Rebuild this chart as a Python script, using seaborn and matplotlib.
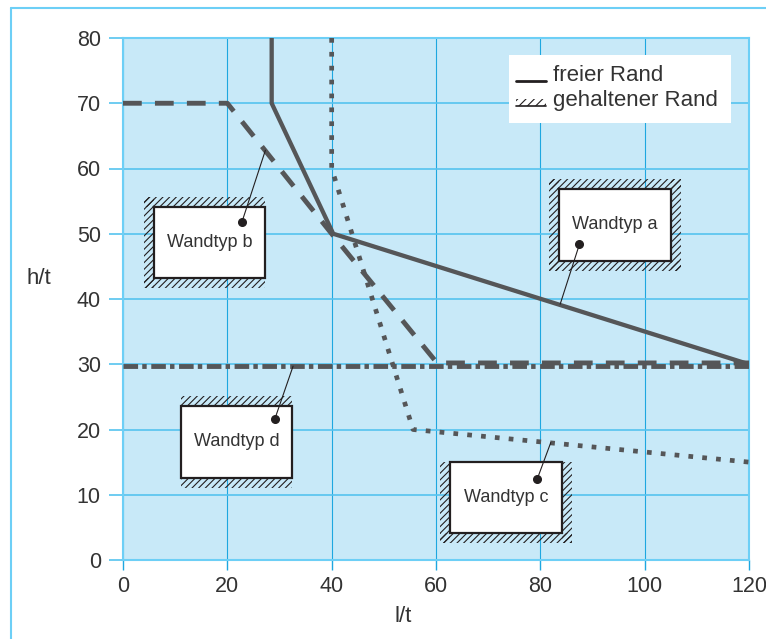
import numpy as np
import pandas as pd
import matplotlib
matplotlib.use("Agg")
import matplotlib.pyplot as plt
from matplotlib.patches import Rectangle
from matplotlib.lines import Line2D
import seaborn as sns

# Kurvenpunkte (l/t, h/t) der vier Wandtypen
wand_a_x = [28.5, 28.5, 40.3, 120]
wand_a_y = [80, 70, 50, 30]
wand_b_x = [0, 20, 40, 60.2, 120]
wand_b_y = [70, 70, 50, 30.2, 30.2]
wand_c_x = [40, 40, 55.6, 120]
wand_c_y = [80, 60, 20, 15]
wand_d_x = [0, 120]
wand_d_y = [29.7, 29.7]

x_ticks = [0, 20, 40, 60, 80, 100, 120]
y_ticks = [0, 10, 20, 30, 40, 50, 60, 70, 80]

legend_labels = ["freier Rand", "gehaltener Rand"]

# Beschriftungskästen: Text, Kasten (x0, y0, x1, y1), gehaltene Seiten, Punkt, Linienende
boxes = [
    ("Wandtyp a", (83.6, 45.8, 105.0, 56.9), "ltrb", (87.5, 48.4), (83.8, 39.2)),
    ("Wandtyp b", (5.9, 43.2, 27.2, 54.1), "ltb", (22.8, 51.8), (27.3, 62.8)),
    ("Wandtyp c", (62.7, 4.1, 84.2, 15.0), "lrb", (79.4, 12.4), (82.0, 18.0)),
    ("Wandtyp d", (11.1, 12.6, 32.4, 23.6), "tb", (29.1, 21.6), (32.6, 29.7)),
]

sns.set_style("white")
plt.rcParams["font.family"] = ["Liberation Sans", "DejaVu Sans"]
plt.rcParams["hatch.linewidth"] = 0.8

text_col = "#333333"
line_col = "#555658"
dark = "#231f20"
grid_dark = "#1ea7e0"
grid_light = "#55c3ef"
border = "#6dcff6"

fig = plt.figure(figsize=(7.66, 6.39), dpi=100)
ax = fig.add_axes([123 / 766, 1 - 560 / 639, 626 / 766, 522 / 639])
ax.set_facecolor("#c8e9f8")

# Strichmuster in Punkten (None = durchgezogen)
curves = [
    (wand_a_x, wand_a_y, None, 3.1),
    (wand_b_x, wand_b_y, (13.5, 9.5), 3.5),
    (wand_c_x, wand_c_y, (3.4, 6.6), 3.4),
    (wand_d_x, wand_d_y, (10.5, 3.0, 3.2, 3.3), 3.5),
]
for xs, ys, dash, lw in curves:
    df = pd.DataFrame({"l/t": xs, "h/t": ys})
    n_before = len(ax.lines)
    sns.lineplot(data=df, x="l/t", y="h/t", ax=ax, sort=False, estimator=None,
                 color=line_col, linewidth=lw, zorder=3)
    for line in ax.lines[n_before:]:
        line.set_solid_capstyle("butt")
        line.set_dash_capstyle("butt")
        if dash is not None:
            line.set_linestyle((0, tuple(d / lw for d in dash)))

ax.set_xlim(0, 120)
ax.set_ylim(0, 80)
ax.set_xticks(x_ticks)
ax.set_yticks(y_ticks)
ax.set_xlabel("")
ax.set_ylabel("")
ax.xaxis.grid(True, color=grid_dark, linewidth=0.8)
ax.yaxis.grid(True, color=grid_light, linewidth=1.2)
ax.set_axisbelow(True)
for sp in ax.spines.values():
    sp.set_color(border)
    sp.set_linewidth(1.5)
ax.tick_params(axis="x", length=7.5, width=1, color=grid_dark, pad=4,
               labelsize=15.5, labelcolor=text_col, direction="out")
ax.tick_params(axis="y", length=10, width=1.2, color=grid_light, pad=6,
               labelsize=15.5, labelcolor=text_col, direction="out")
ax.tick_params(bottom=True, left=True)

# Kästen mit schraffierten (gehaltenen) Rändern
dx, dy = 1.9, 1.55
for label, (x0, y0, x1, y1), sides, dot, end in boxes:
    hx0 = x0 - dx if "l" in sides else x0
    hx1 = x1 + dx if "r" in sides else x1
    vy0 = y0 - dy if "b" in sides else y0
    vy1 = y1 + dy if "t" in sides else y1
    strips = []
    if "l" in sides:
        strips.append((x0 - dx, vy0, dx, vy1 - vy0))
    if "r" in sides:
        strips.append((x1, vy0, dx, vy1 - vy0))
    if "t" in sides:
        strips.append((hx0, y1, hx1 - hx0, dy))
    if "b" in sides:
        strips.append((hx0, y0 - dy, hx1 - hx0, dy))
    for sx, sy, sw, sh in strips:
        ax.add_patch(Rectangle((sx, sy), sw, sh, facecolor="none", edgecolor=dark,
                               hatch="/////", linewidth=0, zorder=4))
    ax.add_patch(Rectangle((x0, y0), x1 - x0, y1 - y0, facecolor="white",
                           edgecolor=dark, linewidth=1.6, zorder=5))
    ax.text((x0 + x1) / 2, (y0 + y1) / 2, label, ha="center", va="center",
            fontsize=13, color=text_col, zorder=6)
    ax.plot([dot[0], end[0]], [dot[1], end[1]], color=dark, linewidth=0.8, zorder=6)
    ax.plot(dot[0], dot[1], "o", color=dark, markersize=5.5, zorder=7)

# Legende
ax.add_patch(Rectangle((0.6166, 0.837), 0.3546, 0.130, transform=ax.transAxes,
                       facecolor="white", edgecolor="none", zorder=5))
ax.add_line(Line2D([0.628, 0.676], [0.918, 0.918], transform=ax.transAxes,
                   color=dark, linewidth=2, zorder=6))
ax.add_patch(Rectangle((0.628, 0.869), 0.048, 0.014, transform=ax.transAxes,
                       facecolor="none", edgecolor=dark, hatch="////", linewidth=0, zorder=6))
ax.add_line(Line2D([0.628, 0.676], [0.869, 0.869], transform=ax.transAxes,
                   color=dark, linewidth=1.2, zorder=6))
ax.text(0.687, 0.917, legend_labels[0], transform=ax.transAxes, va="baseline",
        fontsize=16, color=text_col, zorder=7)
ax.text(0.687, 0.870, legend_labels[1], transform=ax.transAxes, va="baseline",
        fontsize=16, color=text_col, zorder=7)

fig.text(39 / 766, 1 - 279 / 639, "h/t", ha="center", va="center", fontsize=16, color=text_col)
fig.text(403 / 766, 1 - 617 / 639, "l/t", ha="center", va="center", fontsize=16, color=text_col)

# Rahmen um die Abbildung
fig.add_artist(Line2D([11 / 766, 11 / 766], [0, 1 - 7.5 / 639], color=border, linewidth=1.5))
fig.add_artist(Line2D([11 / 766, 1], [1 - 7.5 / 639, 1 - 7.5 / 639], color=border, linewidth=1.5))

fig.savefig("out.png", dpi=100)
